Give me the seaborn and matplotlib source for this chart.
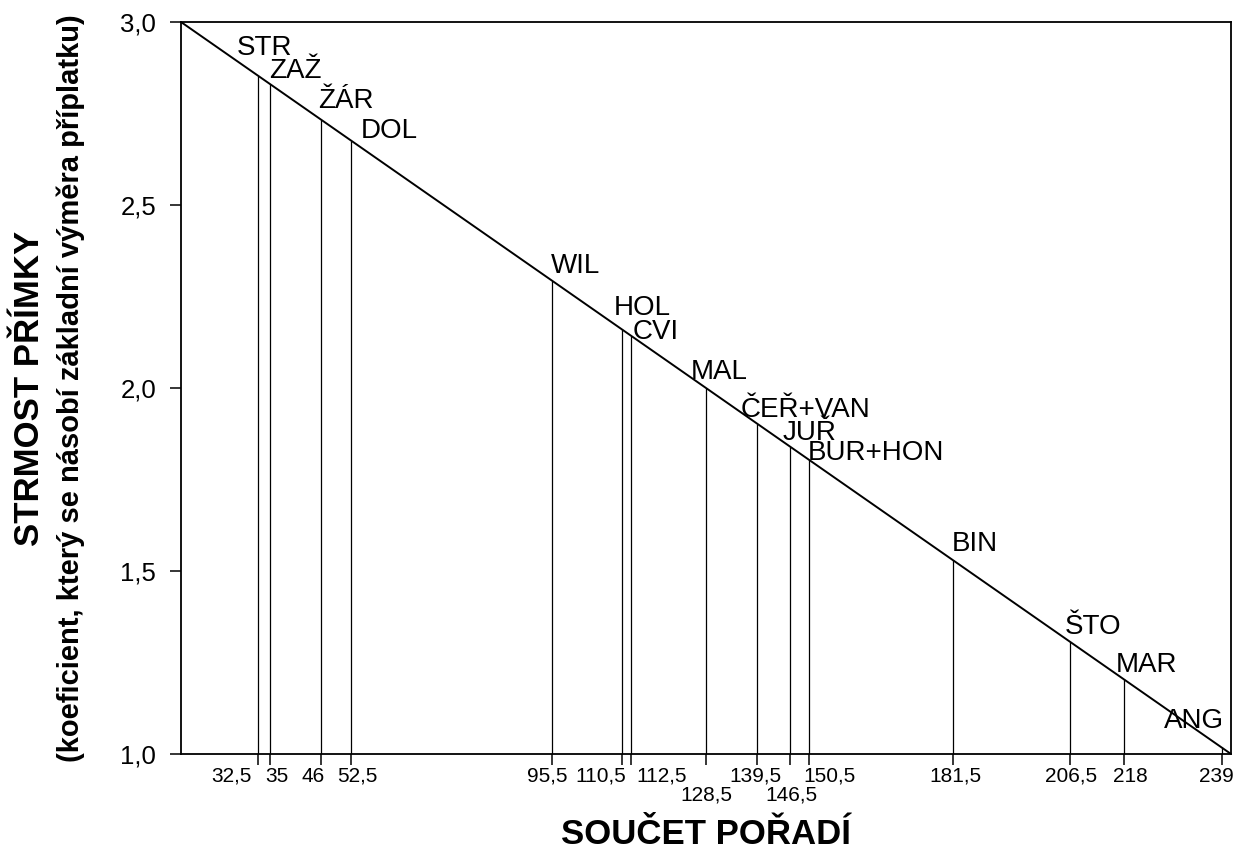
import numpy as np
import pandas as pd
import seaborn as sns
import matplotlib
matplotlib.use("Agg")
import matplotlib.pyplot as plt

# rank sums of the teams and the steepness coefficient
names = ["STR", "ZAŽ", "ŽÁR", "DOL", "WIL", "HOL", "CVI", "MAL",
         "ČEŘ+VAN", "JUŘ", "BUR+HON", "BIN", "ŠTO", "MAR", "ANG"]
rank_sum = [32.5, 35, 46, 52.5, 95.5, 110.5, 112.5, 128.5,
            139.5, 146.5, 150.5, 181.5, 206.5, 218, 239]
coef = [2.853, 2.831, 2.733, 2.676, 2.293, 2.160, 2.142, 2.000,
        1.902, 1.840, 1.804, 1.529, 1.307, 1.204, 1.018]
rank_labels = ["32,5", "35", "46", "52,5", "95,5", "110,5", "112,5", "128,5",
               "139,5", "146,5", "150,5", "181,5", "206,5", "218", "239"]

# the straight line: from the best possible to the worst possible rank sum
line_x = [16, 241]
line_y = [3.0, 1.0]

y_ticks = [1.0, 1.5, 2.0, 2.5, 3.0]
y_labels = ["1,0", "1,5", "2,0", "2,5", "3,0"]

df = pd.DataFrame({"name": names, "x": rank_sum, "y": coef})

sns.set_theme(style="ticks")
plt.rcParams["font.family"] = ["Liberation Sans", "DejaVu Sans"]

fig = plt.figure(figsize=(12.34, 8.48), dpi=100)
ax = fig.add_axes([181 / 1234, 1 - 754 / 848, 1050 / 1234, 732 / 848])

sns.lineplot(x=line_x, y=line_y, ax=ax, color="black", linewidth=1.4)
ax.vlines(df["x"], 1.0, df["y"], color="black", linewidth=0.9)

ax.set_xlim(line_x[0], line_x[1])
ax.set_ylim(1.0, 3.0)

for s in ax.spines.values():
    s.set_color("black")
    s.set_linewidth(1.3)
    s.set_visible(True)

ax.set_xticks(rank_sum)
ax.set_xticklabels([""] * len(rank_sum))
ax.set_yticks(y_ticks)
ax.set_yticklabels(y_labels, fontsize=18.5)
ax.tick_params(axis="x", direction="out", length=8, width=1.1, color="black")
ax.tick_params(axis="y", direction="out", length=8, width=1.1, color="black",
               pad=10, labelcolor="black")

# team labels, nudged by hand like in the original (pixels)
name_nudge = {
    "STR": (-21, 21), "ZAŽ": (-1, 6), "ŽÁR": (-3, 12), "DOL": (9, 3),
    "WIL": (-1, 8), "HOL": (-8, 14), "CVI": (1, -3), "MAL": (-15, 9),
    "ČEŘ+VAN": (-17, 7), "JUŘ": (-7, 7), "BUR+HON": (-1, 0),
    "BIN": (-2, 9), "ŠTO": (-5, 8), "MAR": (-8, 7), "ANG": (-58, 19),
}
for n, x, y in zip(df["name"], df["x"], df["y"]):
    dx, dy = name_nudge[n]
    ax.annotate(n, xy=(x, y), xytext=(dx, dy), textcoords="offset pixels",
                ha="left", va="baseline", fontsize=20, color="black")

# tick labels on the x axis, also placed by hand (two rows)
tick_nudge = {
    "32,5": (-27, 0), "35": (7, 0), "46": (-8, 0), "52,5": (6, 0),
    "95,5": (-5, 0), "110,5": (-21, 0), "112,5": (30, 0), "128,5": (0, 1),
    "139,5": (-2, 0), "146,5": (1, 1), "150,5": (21, 0), "181,5": (2, 0),
    "206,5": (1, 0), "218": (7, 0), "239": (-5, 0),
}
for lab, x in zip(rank_labels, rank_sum):
    dx, row = tick_nudge[lab]
    dy = -22.5 if row == 0 else -41
    ax.annotate(lab, xy=(x, 0), xycoords=("data", "axes fraction"),
                xytext=(dx, dy), textcoords="offset pixels",
                ha="center", va="center", fontsize=15, color="black")

fig.text(706 / 1234, 1 - 844 / 848, "SOUČET POŘADÍ", ha="center", va="baseline",
         fontsize=25, fontweight="bold", color="black")
fig.text(30 / 1234, 1 - 388 / 848, "STRMOST PŘÍMKY", rotation=90,
         ha="center", va="center", fontsize=25, fontweight="bold", color="black")
fig.text(71 / 1234, 1 - 388 / 848,
         "(koeficient, který se násobí základní výměra příplatku)", rotation=90,
         ha="center", va="center", fontsize=21, fontweight="bold", color="black")

fig.savefig("out.png", dpi=100, facecolor="white")
